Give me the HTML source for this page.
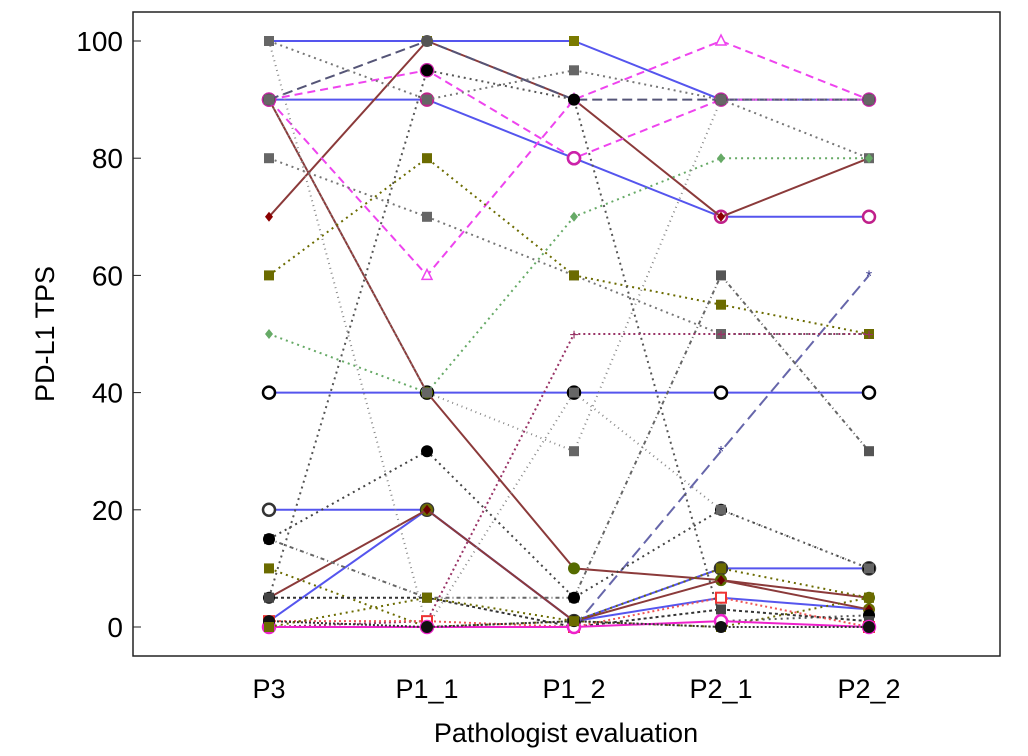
<!DOCTYPE html>
<html><head><meta charset="utf-8"><style>
html,body{margin:0;padding:0;background:#fff;}
svg{display:block;font-family:"Liberation Sans",sans-serif;}
</style></head><body>
<svg id="chart" width="1028" height="756" viewBox="0 0 1028 756">
<rect x="133" y="12" width="867" height="644" fill="#fff" stroke="#222" stroke-width="1.5"/>
<g id="grid"></g>
<g id="lines"></g>
<text x="54" y="334" font-size="27" text-anchor="middle" transform="rotate(-90 54 334)">PD-L1 TPS</text>
<text x="566" y="742" font-size="27" text-anchor="middle">Pathologist evaluation</text>
</svg>
<script>
const categories = ["P3","P1_1","P1_2","P2_1","P2_2"];
const yTicks = [0,20,40,60,80,100];
const series1 = [100,100,100,90,90];
const series2 = [90,90,80,70,70];
const series3 = [40,40,40,40,40];
const series4 = [20,20,1,10,10];
const series5 = [1,20,1,5,3];
const series6 = [70,100,90,70,80];
const series7 = [90,40,10,8,5];
const series8 = [5,20,1,8,3];
const series9 = [90,60,90,100,90];
const series10 = [90,95,80,90,90];
const series11 = [90,100,90,90,90];
const series12 = [0,0,0,30,60];
const series13 = [100,90,95,90,80];
const series14 = [80,70,60,50,50];
const series15 = [60,80,60,55,50];
const series16 = [50,40,70,80,80];
const series17 = [15,5,5,60,30];
const series18 = [15,30,5,20,10];
const series19 = [10,0,1,0,5];
const series20 = [5,95,90,1,2];
const series21 = [0,1,50,50,50];
const series22 = [90,40,30,90,90];
const series23 = [100,0,40,20,10];
const series24 = [5,5,0,3,1];
const series25 = [1,1,0,5,0];
const series26 = [0,0,0,1,0];
const series27 = [1,0,1,0,0];
const series28 = [0,5,1,10,5];
const allSeries = [
 [series1,"#5555ee","","sq","#7a7a00"],[series2,"#5555ee","","oc","#c0208a"],
 [series3,"#5555ee","","oc","#000"],[series4,"#5555ee","","oc","#333"],
 [series5,"#5555ee","","ci","#6b6b00"],[series6,"#8b3a3a","","di","#8b0000"],
 [series7,"#8b3a3a","","ci","#556b00"],[series8,"#8b3a3a","","di","#6b0000"],
 [series9,"#ee44ee","8 5","tr","#ee44ee"],[series10,"#ee44ee","8 5","oc","#cc22aa"],
 [series11,"#555577","10 5","ci","#555"],[series12,"#6666aa","12 6","st","#333388"],
 [series13,"#777","2 4","sq","#666"],[series14,"#777","2 4","sq","#666"],
 [series15,"#6b6b00","2 4","sq","#6b6b00"],[series16,"#66aa66","2 4","di","#66aa66"],
 [series17,"#666","4 3 1 3","sq","#555"],[series18,"#444","2 4","ci","#000"],
 [series19,"#6b6b00","2 4","sq","#6b6b00"],[series20,"#555","2 4","ci","#000"],
 [series21,"#993366","2 3","pl","#993366"],[series22,"#888","1 4","sq","#666"],
 [series23,"#888","1 4","sq","#666"],[series24,"#333","3 3","sq","#444"],
 [series25,"#ee5555","2 3","os","#e33"],[series26,"#ee22cc","","oc","#ee22cc"],
 [series27,"#333","2 2","ci","#111"],[series28,"#6b6b00","2 4","sq","#6b6b00"]
];
const NS="http://www.w3.org/2000/svg";
const xPos=[269,427,574,721,869];
const xScale=i=>xPos[i];
const yScale=v=>627-v*5.86;
const grid=document.getElementById('grid');
const lines=document.getElementById('lines');
function mk(tag,attrs,parent){const e=document.createElementNS(NS,tag);for(const k in attrs)e.setAttribute(k,attrs[k]);parent.appendChild(e);return e;}
yTicks.forEach(t=>{
 const tk=mk('line',{x1:133,x2:141,y1:yScale(t),y2:yScale(t),stroke:'#222'},grid);
 
 
 const lb=mk('text',{x:123,y:yScale(t)+10,'font-size':28,'text-anchor':'end'},grid);
 lb.textContent=t;
 
 
});
categories.forEach((c,i)=>{
 const lb=mk('text',{x:xScale(i),y:698,'font-size':27,'text-anchor':'middle'},grid);
 lb.textContent=c;
 
 
});
allSeries.forEach((s,si)=>{
 const [vals,col,dash,mkType,mcol]=s;
 const pts=vals.map((v,i)=>xScale(i)+','+yScale(v)).join(' ');
 const pl=mk('polyline',{points:pts,fill:'none',stroke:col,'stroke-width':2,'stroke-dasharray':dash},lines);
 
 
 vals.forEach((v,i)=>{
  const x=xScale(i),y=yScale(v);let m;
  if(mkType==='sq') m=mk('rect',{x:x-5,y:y-5,width:10,height:10,fill:mcol},lines);
  else if(mkType==='os') m=mk('rect',{x:x-5,y:y-5,width:10,height:10,fill:'#fff',stroke:mcol,'stroke-width':2},lines);
  else if(mkType==='oc') m=mk('circle',{cx:x,cy:y,r:6,fill:'#fff',stroke:mcol,'stroke-width':2.5},lines);
  else if(mkType==='ci') m=mk('circle',{cx:x,cy:y,r:6,fill:mcol},lines);
  else if(mkType==='di') m=mk('polygon',{points:`${x},${y-5} ${x+4},${y} ${x},${y+5} ${x-4},${y}`,fill:mcol},lines);
  else if(mkType==='tr') m=mk('polygon',{points:`${x},${y-6} ${x+5},${y+4} ${x-5},${y+4}`,fill:'#fff',stroke:mcol,'stroke-width':1.5},lines);
  else m=mk('text',{x:x,y:y+6,'font-size':16,'text-anchor':'middle',fill:mcol},lines),m.textContent=mkType==='st'?'*':'+';
  
  
 });
});
</script>
</body></html>
